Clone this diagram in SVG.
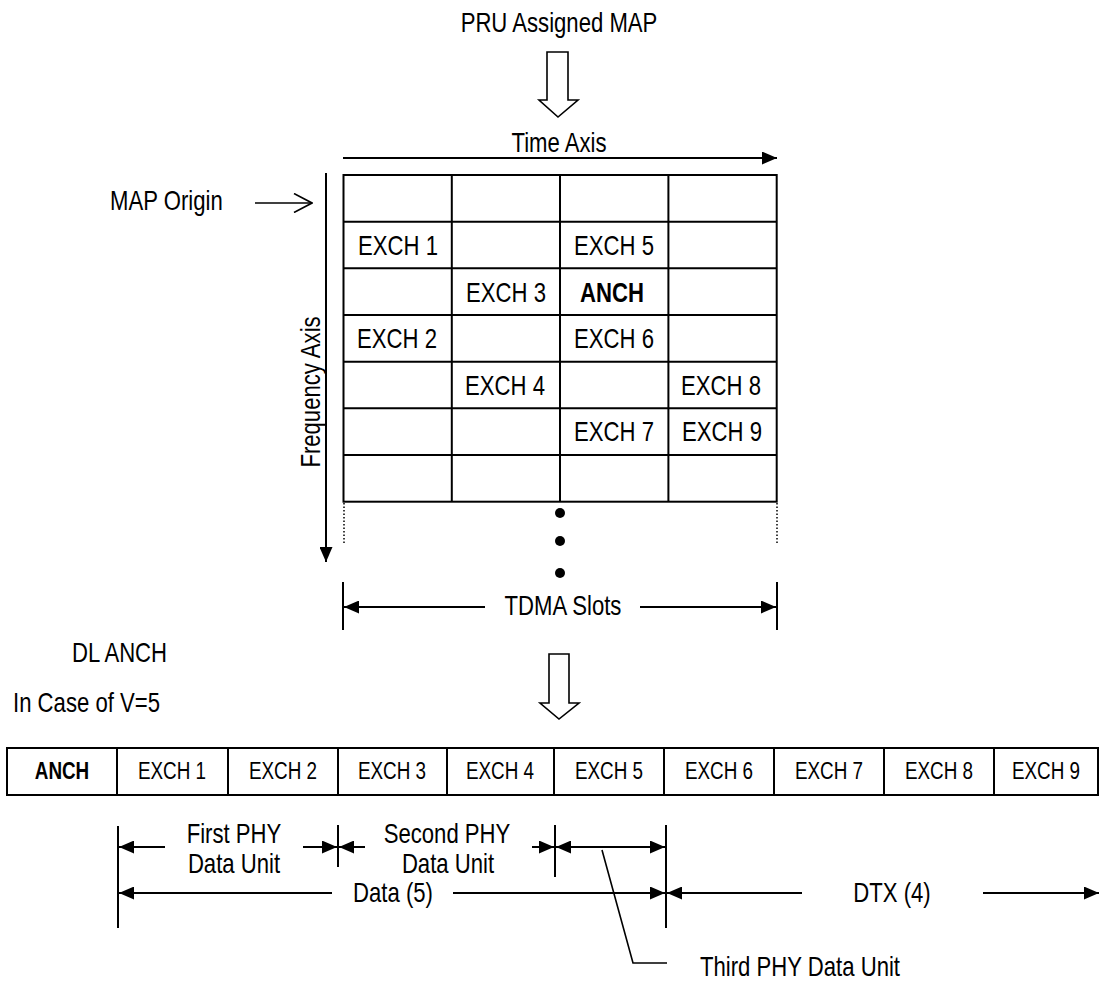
<svg xmlns="http://www.w3.org/2000/svg" width="1099" height="981" viewBox="0 0 1099 981">
<style>
text{font-family:"Liberation Sans",Arial,sans-serif;fill:#000}
.t{font-size:27px}
.s{font-size:23px}
.c{text-anchor:middle}
.b{font-weight:bold}
.ln{stroke:#000;stroke-width:2;fill:none}
.thin{stroke:#000;stroke-width:1.6;fill:none}
.hol{stroke:#000;stroke-width:1.6;fill:#fff}
.cell{stroke:#000;stroke-width:2;fill:#fff}
.dot{stroke:#000;stroke-width:1.5;stroke-dasharray:1.5 2;fill:none}
</style>
<defs>
<marker id="ah" viewBox="0 0 15 13" refX="15" refY="6.5" markerWidth="15" markerHeight="13" markerUnits="userSpaceOnUse" orient="auto-start-reverse">
<path d="M0,0 L15,6.5 L0,13 Z" fill="#000"/>
</marker>
<marker id="oh" viewBox="0 0 20 20" refX="19" refY="10" markerWidth="20" markerHeight="20" markerUnits="userSpaceOnUse" orient="auto">
<path d="M1,0.5 L19,10 L1,19.5" fill="none" stroke="#000" stroke-width="1.6"/>
</marker>
</defs>
<rect width="1099" height="981" fill="#fff"/>

<g id="title">
<text class="t c" transform="matrix(.82 0 0 1 559 32)">PRU Assigned MAP</text>
<polygon class="hol" points="547,52 568,52 568,100 578,100 558,117 539,100 547,100"/>
</g>

<g id="map-grid">
<rect class="cell" x="343.5" y="175" width="433.2" height="326.7"/>
<g class="ln">
<line x1="451.8" y1="175" x2="451.8" y2="501.7"/>
<line x1="560" y1="175" x2="560" y2="501.7"/>
<line x1="668.4" y1="175" x2="668.4" y2="501.7"/>
<line x1="343.5" y1="221.7" x2="776.7" y2="221.7"/>
<line x1="343.5" y1="268.3" x2="776.7" y2="268.3"/>
<line x1="343.5" y1="315" x2="776.7" y2="315"/>
<line x1="343.5" y1="361.7" x2="776.7" y2="361.7"/>
<line x1="343.5" y1="408.3" x2="776.7" y2="408.3"/>
<line x1="343.5" y1="455" x2="776.7" y2="455"/>
</g>
<text class="t c" transform="matrix(.82 0 0 1 398 255)">EXCH 1</text>
<text class="t c" transform="matrix(.82 0 0 1 614 255)">EXCH 5</text>
<text class="t c" transform="matrix(.82 0 0 1 506 302)">EXCH 3</text>
<text class="t c b" transform="matrix(.82 0 0 1 612 302)">ANCH</text>
<text class="t c" transform="matrix(.82 0 0 1 397 348)">EXCH 2</text>
<text class="t c" transform="matrix(.82 0 0 1 614 348)">EXCH 6</text>
<text class="t c" transform="matrix(.82 0 0 1 505 395)">EXCH 4</text>
<text class="t c" transform="matrix(.82 0 0 1 721 395)">EXCH 8</text>
<text class="t c" transform="matrix(.82 0 0 1 614 441)">EXCH 7</text>
<text class="t c" transform="matrix(.82 0 0 1 722 441)">EXCH 9</text>
<line class="dot" x1="344" y1="503" x2="344" y2="544"/>
<line class="dot" x1="777" y1="503" x2="777" y2="544"/>
<circle cx="560" cy="513" r="5" fill="#000"/>
<circle cx="560" cy="541" r="5" fill="#000"/>
<circle cx="560" cy="573" r="5" fill="#000"/>
</g>

<g id="axes-labels">
<text class="t c" transform="matrix(.82 0 0 1 559 152)">Time Axis</text>
<text class="t" transform="matrix(.82 0 0 1 110 210)">MAP Origin</text>
<text class="t c" transform="translate(320,392) rotate(-90) scale(.82,1)">Frequency Axis</text>
<text class="t c" transform="matrix(.82 0 0 1 563 615)">TDMA Slots</text>
</g>

<g id="anch-labels">
<text class="t" transform="matrix(.82 0 0 1 72 662)">DL ANCH</text>
<text class="t" transform="matrix(.82 0 0 1 13 712)">In Case of V=5</text>
<polygon class="hol" points="549,654 569,654 569,703 579,703 559,719 540,703 549,703"/>
</g>

<g id="anch-frame">
<rect class="cell" x="7" y="748" width="1091" height="47"/>
<g class="ln">
<line x1="117" y1="748" x2="117" y2="795"/>
<line x1="228" y1="748" x2="228" y2="795"/>
<line x1="338" y1="748" x2="338" y2="795"/>
<line x1="447" y1="748" x2="447" y2="795"/>
<line x1="554" y1="748" x2="554" y2="795"/>
<line x1="664" y1="748" x2="664" y2="795"/>
<line x1="774" y1="748" x2="774" y2="795"/>
<line x1="884" y1="748" x2="884" y2="795"/>
<line x1="994" y1="748" x2="994" y2="795"/>
</g>
<text class="s c b" transform="matrix(.82 0 0 1 62 779)">ANCH</text>
<text class="s c" transform="matrix(.82 0 0 1 172 779)">EXCH 1</text>
<text class="s c" transform="matrix(.82 0 0 1 283 779)">EXCH 2</text>
<text class="s c" transform="matrix(.82 0 0 1 392 779)">EXCH 3</text>
<text class="s c" transform="matrix(.82 0 0 1 500 779)">EXCH 4</text>
<text class="s c" transform="matrix(.82 0 0 1 609 779)">EXCH 5</text>
<text class="s c" transform="matrix(.82 0 0 1 719 779)">EXCH 6</text>
<text class="s c" transform="matrix(.82 0 0 1 829 779)">EXCH 7</text>
<text class="s c" transform="matrix(.82 0 0 1 939 779)">EXCH 8</text>
<text class="s c" transform="matrix(.82 0 0 1 1046 779)">EXCH 9</text>
</g>

<g id="dimension-labels">
<text class="t c" transform="matrix(.82 0 0 1 234 843)">First PHY</text>
<text class="t c" transform="matrix(.82 0 0 1 234 873)">Data Unit</text>
<text class="t c" transform="matrix(.82 0 0 1 447 843)">Second PHY</text>
<text class="t c" transform="matrix(.82 0 0 1 448 873)">Data Unit</text>
<text class="t c" transform="matrix(.82 0 0 1 393 902)">Data (5)</text>
<text class="t c" transform="matrix(.82 0 0 1 892 902)">DTX (4)</text>
<text class="t" transform="matrix(.82 0 0 1 700 976)">Third PHY Data Unit</text>
</g>

<g id="connectors">
<line class="ln" x1="343" y1="158" x2="777" y2="158" marker-end="url(#ah)"/>
<line class="ln" x1="326" y1="173" x2="326" y2="562" marker-end="url(#ah)"/>
<line class="thin" x1="255" y1="203" x2="312" y2="203" marker-end="url(#oh)"/>
<line class="ln" x1="343" y1="582" x2="343" y2="630"/>
<line class="ln" x1="777" y1="582" x2="777" y2="630"/>
<line class="ln" x1="485" y1="607" x2="344" y2="607" marker-end="url(#ah)"/>
<line class="ln" x1="640" y1="607" x2="776" y2="607" marker-end="url(#ah)"/>
<line class="ln" x1="118" y1="826" x2="118" y2="928"/>
<line class="ln" x1="338" y1="825" x2="338" y2="867"/>
<line class="ln" x1="555" y1="825" x2="555" y2="877"/>
<line class="ln" x1="666" y1="825" x2="666" y2="928"/>
<line class="ln" x1="165" y1="847" x2="119" y2="847" marker-end="url(#ah)"/>
<line class="ln" x1="303" y1="847" x2="337" y2="847" marker-end="url(#ah)"/>
<line class="ln" x1="365" y1="847" x2="339" y2="847" marker-end="url(#ah)"/>
<line class="ln" x1="532" y1="847" x2="554" y2="847" marker-end="url(#ah)"/>
<line class="ln" x1="556" y1="847" x2="665" y2="847" marker-start="url(#ah)" marker-end="url(#ah)"/>
<line class="ln" x1="332" y1="893" x2="119" y2="893" marker-end="url(#ah)"/>
<line class="ln" x1="453" y1="893" x2="665" y2="893" marker-end="url(#ah)"/>
<line class="ln" x1="802" y1="893" x2="667" y2="893" marker-end="url(#ah)"/>
<line class="ln" x1="983" y1="893" x2="1099" y2="893" marker-end="url(#ah)"/>
<polyline class="thin" points="602,850 633,963 667,963"/>
</g>
</svg>
